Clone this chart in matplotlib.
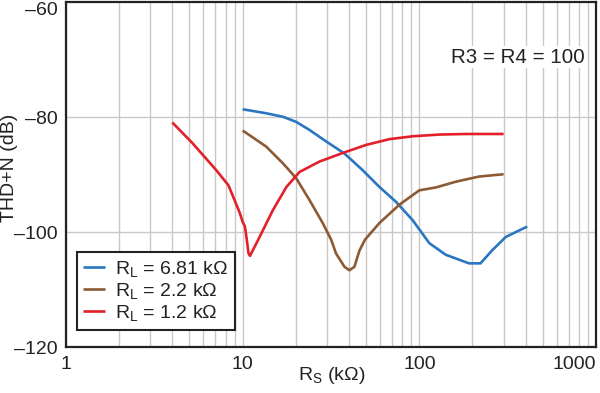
import matplotlib
matplotlib.use('Agg')
import matplotlib.pyplot as plt
from matplotlib.ticker import FixedLocator, NullFormatter

# values (RS in kOhm, THD+N in dB)
BLUE_RS = [10, 13.6, 16.9, 20.1, 23.9, 29.7, 37.7, 47.8, 59.4, 73.8, 91.7, 114,
           141, 191, 222, 259, 309, 408]
BLUE_DB = [-78.6, -79.3, -79.9, -80.8, -82.2, -84.2, -86.3, -89.2, -92.1, -94.7,
           -97.9, -101.9, -103.9, -105.4, -105.4, -103.1, -100.8, -99.0]

BROWN_RS = [10, 13.6, 16.9, 20.1, 23.9, 28.4, 31.7, 33.8, 37.7, 40.2, 42.9, 45.8,
            49.2, 59.4, 77.1, 100, 124, 161, 218, 300]
BROWN_DB = [-82.3, -85.1, -88.0, -90.6, -94.4, -98.4, -101.3, -103.7, -106.0, -106.6,
            -106.0, -103.2, -101.3, -98.4, -95.2, -92.7, -92.2, -91.2, -90.3, -89.9]

RED_RS = [4.0, 5.2, 7.0, 8.3, 9.0, 9.65, 10.0, 10.3, 10.5, 10.8, 11.0, 12.2, 14.8,
          17.7, 21.0, 27.2, 36.9, 50.0, 67.7, 91.7, 130, 183, 300]
RED_DB = [-80.9, -84.5, -89.0, -91.8, -94.4, -96.7, -98.2, -99.0, -100.8, -103.7,
          -104.1, -101.4, -96.2, -92.1, -89.5, -87.7, -86.2, -84.8, -83.8, -83.3,
          -83.0, -82.9, -82.9]

LABELS = ['R$_\\mathregular{L}$ = 6.81 k\u03a9',
          'R$_\\mathregular{L}$ = 2.2 k\u03a9',
          'R$_\\mathregular{L}$ = 1.2 k\u03a9']
COLORS = ['#2a76c0', '#8c5a35', '#e3202a']

X_TICKS = [1, 10, 100, 1000]
X_TICKLABELS = ['1', '10', '100', '1000']
Y_TICKS = [-120, -100, -80, -60]
Y_TICKLABELS = ['\u2013120', '\u2013100', '\u201380', '\u201360']
NOTE = 'R3 = R4 = 100'


def main():
    plt.rcParams['font.family'] = ['Liberation Sans', 'DejaVu Sans']
    plt.rcParams['mathtext.fontset'] = 'custom'
    plt.rcParams['mathtext.rm'] = 'Liberation Sans'
    plt.rcParams['mathtext.it'] = 'Liberation Sans:italic'

    fig = plt.figure(figsize=(6.0, 3.93), dpi=100)
    ax = fig.add_axes([0.11, 0.1163, 0.8833, 0.8778])

    for xs, ys, c, lab in zip([BLUE_RS, BROWN_RS, RED_RS], [BLUE_DB, BROWN_DB, RED_DB],
                              COLORS, LABELS):
        ax.plot(xs, ys, color=c, lw=1.9, label=lab, zorder=3,
                solid_joinstyle='round', solid_capstyle='butt')

    ax.set_xscale('log')
    ax.set_xlim(1, 1000)
    ax.set_ylim(-120, -60)

    ax.xaxis.set_major_locator(FixedLocator(X_TICKS))
    ax.set_xticklabels(X_TICKLABELS)
    minor = [m * d for d in (1, 10, 100) for m in range(2, 10)]
    ax.xaxis.set_minor_locator(FixedLocator(minor))
    ax.xaxis.set_minor_formatter(NullFormatter())
    ax.set_yticks(Y_TICKS)
    ax.set_yticklabels(Y_TICKLABELS)

    ax.tick_params(which='both', length=0, labelsize=14, colors='#222222', pad=6)
    ax.get_xticklabels()[-1].set_horizontalalignment('right')
    ax.get_yticklabels()[-1].set_verticalalignment('top')

    # vertical grid at every decade step, horizontal only at -80/-100
    ax.grid(True, which='both', axis='x', color='#c8c8c8', lw=1.0, zorder=0)
    for yv in (-80, -100):
        ax.axhline(yv, color='#c8c8c8', lw=1.0, zorder=0)

    for sp in ax.spines.values():
        sp.set_color('#222222')
        sp.set_linewidth(1.6)

    # axis titles placed in figure pixels so nothing is clipped
    fig.text(332 / 600, 1 - 376 / 393, 'R$_\\mathregular{S}$ (k\u03a9)', fontsize=14,
             color='#222222', ha='center', va='center')
    fig.text(10 / 600, 1 - 168 / 393, 'THD+N (dB)', fontsize=14, color='#222222',
             ha='center', va='center', rotation=90)

    ax.text(0.979, 0.841, NOTE, transform=ax.transAxes, ha='right', va='center',
            fontsize=14.8, color='#222222', zorder=4,
            bbox=dict(facecolor='white', edgecolor='none', pad=1))

    leg = ax.legend(loc='lower left', bbox_to_anchor=(0.02, 0.05), borderaxespad=0,
                    fontsize=14, fancybox=False, framealpha=1, edgecolor='#222222',
                    handlelength=1.1, handletextpad=0.5, labelspacing=0.12,
                    borderpad=0.35)
    leg.get_frame().set_linewidth(1.5)
    for t in leg.get_texts():
        t.set_color('#222222')

    fig.savefig('out.png', dpi=100)


if __name__ == '__main__':
    main()
